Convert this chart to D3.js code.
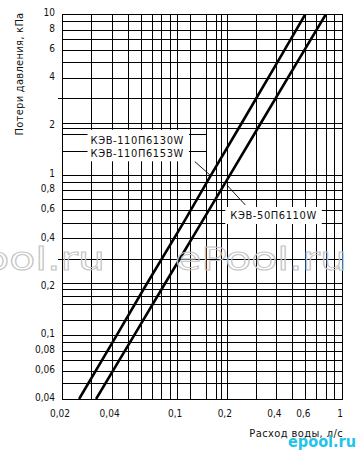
<!DOCTYPE html>
<html><head><meta charset="utf-8">
<script src="https://cdn.jsdelivr.net/npm/d3@7"></script>
<style>
html,body{margin:0;padding:0;background:#fff;}
text{font-family:"DejaVu Sans Condensed","DejaVu Sans",sans-serif;font-stretch:condensed;fill:#111;}
</style></head>
<body><svg id="c" width="356" height="452"></svg>
<script>
// ---- data ----
const xTicks = [0.02, 0.04, 0.1, 0.2, 0.4, 0.6, 1];
const yTicks = [10, 8, 6, 4, 2, 1, 0.8, 0.6, 0.4, 0.2, 0.1, 0.08, 0.06, 0.04];
const xGrid = [0.02,0.03,0.04,0.05,0.06,0.07,0.08,0.09,0.1,0.12,0.15,0.172,0.185,0.2,0.3,0.4,0.5,0.6,0.7,0.8,0.9,1];
const yGrid = [10,9,8,7,6,5,4,3,2.1,1.95,1,0.9,0.8,0.7,0.6,0.5,0.4,0.3,0.21,0.195,0.175,0.156,0.125,0.1,0.09,0.08,0.07,0.06,0.05,0.04];
const yGridShort = [1.8, 1.4];
const yGridExt = [3, 0.3];
// curve A: КЭВ-110П6130W / КЭВ-110П6153W
const qA = [0.0254,0.043,0.0638,0.109,0.161,0.24,0.405,0.6];
const pA = [0.04,0.1,0.2,0.5,1,2,5,10];
// curve B: КЭВ-50П6110W
const qB = [0.0322,0.0549,0.0821,0.140,0.2096,0.3134,0.5337,0.8];
const pB = [0.04,0.1,0.2,0.5,1,2,5,10];
const labelsA = ["КЭВ-110П6130W", "КЭВ-110П6153W"];
const labelB = "КЭВ-50П6110W";
const xTitle = "Расход воды, л/с";
const yTitle = "Потери давления, кПа";

// ---- drawing ----
const svg = d3.select("#c");
const L = 62, R = 342, T = 14, B = 399;
const x = d3.scaleLog().domain([0.02, 1]).range([L, R]);
const y = d3.scaleLog().domain([0.04, 10]).range([B, T]);
const px = v => Math.round(x(v)) + 0.5;
const py = v => Math.round(y(v)) + 0.5;
const fmt = v => String(v).replace(".", ",");

const g = svg.append("g").attr("stroke", "#000").attr("stroke-width", 1.2).attr("shape-rendering", "crispEdges");
g.selectAll("line.v").data(xGrid).join("line").attr("class","v")
  .attr("x1", px).attr("x2", px).attr("y1", T).attr("y2", B + 0.5);
g.selectAll("line.h").data(yGrid).join("line").attr("class","h")
  .attr("y1", py).attr("y2", py).attr("x1", d => yGridExt.includes(d) ? L - 4 : L).attr("x2", R + 0.5);
g.selectAll("line.s").data(yGridShort).join("line").attr("class","s")
  .attr("y1", py).attr("y2", py).attr("x1", L).attr("x2", px(0.15));

// curves
const line = d3.line().x(d => x(d[0])).y(d => y(d[1]));
svg.append("clipPath").attr("id","pc").append("rect").attr("x",L).attr("y",T).attr("width",R-L).attr("height",B-T);
const curves = svg.append("g").attr("clip-path","url(#pc)");
curves.append("path").datum(d3.zip(qA, pA)).attr("d", line).attr("fill","none").attr("stroke","#000").attr("stroke-width",2.6);
curves.append("path").datum(d3.zip(qB, pB)).attr("d", line).attr("fill","none").attr("stroke","#000").attr("stroke-width",2.6);

// labels with white backgrounds
const lab = svg.append("g");
const lA = lab.append("g");
const bgA = lA.append("rect").attr("fill","#fff");
lA.selectAll("text").data(labelsA).join("text")
  .attr("x", x(0.0298)).attr("y", (d,i) => y([1.64, 1.357][i])).attr("dy","0.36em")
  .attr("font-size", 11).attr("letter-spacing", 0.6).text(d => d);
let bb = lA.node().getBBox();
bgA.attr("x", bb.x - 3).attr("y", y(1.9)).attr("width", bb.width + 8).attr("height", y(1.21) - y(1.9));

const lB = lab.append("g");
const bgB = lB.append("rect").attr("fill","#fff");
lB.append("text").attr("x", x(0.21)).attr("y", y(0.56)).attr("dy","0.36em")
  .attr("font-size", 11).attr("letter-spacing", 0.6).text(labelB);
bb = lB.select("text").node().getBBox();
bgB.attr("x", bb.x - 5).attr("y", y(0.628)).attr("width", bb.width + 10).attr("height", y(0.492) - y(0.628));

// leaders
const leaders = [[[0.128,1.203],[0.158,0.994]], [[0.2,0.861],[0.259,0.647]]];
svg.append("g").selectAll("line").data(leaders).join("line")
  .attr("x1", d => x(d[0][0])).attr("y1", d => y(d[0][1]))
  .attr("x2", d => x(d[1][0])).attr("y2", d => y(d[1][1]))
  .attr("stroke","#000").attr("stroke-width",0.9);

// tick labels
svg.append("g").selectAll("text").data(yTicks).join("text")
  .attr("x", 55).attr("y", d => y(d) - 1.5).attr("dy","0.36em").attr("text-anchor","end")
  .attr("font-size", 10).text(fmt);
svg.append("g").selectAll("text").data(xTicks).join("text")
  .attr("x", d => x(d) - 2).attr("y", 413).attr("dy","0.36em").attr("text-anchor","middle")
  .attr("font-size", 10).text(fmt);

// titles
svg.append("text").attr("x", 343).attr("y", 433).attr("dy","0.36em").attr("text-anchor","end")
  .attr("font-size", 11).attr("letter-spacing", 0.4).text(xTitle);
svg.append("text").attr("transform","translate(19,74) rotate(-90)").attr("dy","0.36em").attr("text-anchor","middle")
  .attr("font-size", 11).attr("letter-spacing", 0.3).text(yTitle);

// watermarks
const wm = svg.append("g").attr("pointer-events","none");
[347, 105].forEach(ex => {
  wm.append("text").attr("x", ex).attr("y", 270).attr("text-anchor","end")
    .attr("font-family","Liberation Sans, Arial, sans-serif").attr("font-size", 32)
    .attr("textLength", 172).attr("lengthAdjust","spacingAndGlyphs")
    .style("fill","none").style("stroke","#c4c4c4").style("stroke-width",0.9).text("ePool.ru");
});
wm.append("text").attr("x", 288).attr("y", 447).attr("font-family","DejaVu Sans, sans-serif")
  .attr("font-size", 15).attr("font-weight","bold").attr("textLength", 68).attr("lengthAdjust","spacingAndGlyphs")
  .style("fill","#22c4e8").text("epool.ru");
</script></body></html>
